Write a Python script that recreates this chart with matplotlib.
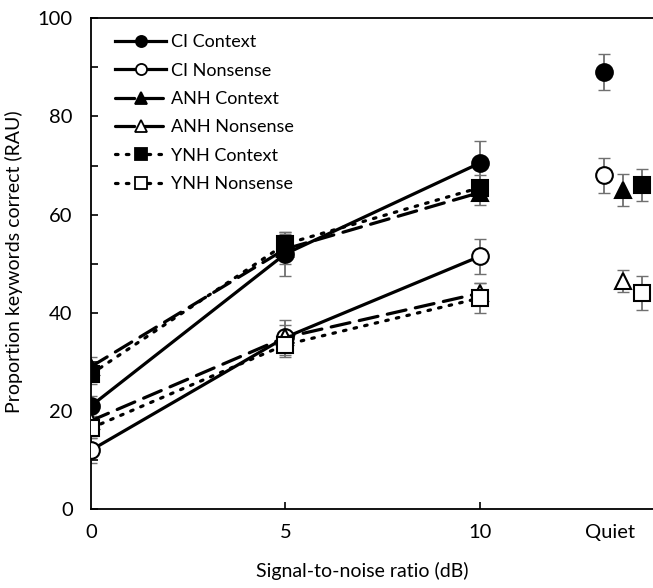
import matplotlib.pyplot as plt
from matplotlib.lines import Line2D

plt.rcParams['font.family'] = ['Lato', 'DejaVu Sans']

snr = [0, 5, 10]
quiet_x = [13.19, 13.68, 14.16]   # CI, ANH, YNH offsets at the "Quiet" position

groups = ['CI', 'ANH', 'YNH']
context = {'CI': [21, 52, 70.5], 'ANH': [29, 53, 64.5], 'YNH': [27.5, 54, 65.5]}
context_err = {'CI': [2, 4.5, 4.5], 'ANH': [2, 3, 2.5], 'YNH': [2, 2.5, 2.5]}
nonsense = {'CI': [12, 35, 51.5], 'ANH': [18, 35, 44], 'YNH': [16.5, 33.5, 43]}
nonsense_err = {'CI': [2.5, 2.5, 3.5], 'ANH': [2, 3.5, 2], 'YNH': [2, 2.5, 3]}
quiet_context = [89, 65, 66]
quiet_context_err = [3.7, 3.3, 3.2]
quiet_nonsense = [68, 46.5, 44]
quiet_nonsense_err = [3.5, 2.3, 3.5]

styles = {'CI': ('-', 'o'), 'ANH': ((0, (6, 3)), '^'), 'YNH': ((0, (0.8, 2.6)), 's')}

fig = plt.figure(figsize=(6.53, 5.88), dpi=100)
ax = fig.add_axes([0.139, 0.134, 0.861, 0.835])

for i, g in enumerate(groups):
    ls, mk = styles[g]
    for vals, errs, qv, qe, fill in [(context[g], context_err[g], quiet_context[i], quiet_context_err[i], 'black'),
                                     (nonsense[g], nonsense_err[g], quiet_nonsense[i], quiet_nonsense_err[i], 'white')]:
        ax.errorbar(snr, vals, yerr=errs, fmt='none', ecolor='#707070', elinewidth=1.3, capsize=4, zorder=2)
        ax.plot(snr, vals, linestyle=ls, color='black', lw=2.3, marker=mk, markersize=12,
                markerfacecolor=fill, markeredgecolor='black', markeredgewidth=1.5,
                dash_capstyle='round', zorder=3)
        ax.errorbar([quiet_x[i]], [qv], yerr=[qe], fmt='none', ecolor='#707070', elinewidth=1.3, capsize=4, zorder=2)
        ax.plot([quiet_x[i]], [qv], linestyle='none', marker=mk, markersize=12,
                markerfacecolor=fill, markeredgecolor='black', markeredgewidth=1.5, zorder=3)

ax.set_xlim(0, 14.45)
ax.set_ylim(0, 100)
ax.set_xticks([0, 5, 10, 13.34])
ax.set_xticklabels(['0', '5', '10', 'Quiet'])
ax.set_yticks(range(0, 101, 10))
ax.set_yticklabels([str(v) if v % 20 == 0 else '' for v in range(0, 101, 10)])
ax.tick_params(direction='in', length=5, width=1.2, labelsize=14.5, pad=11)
ax.tick_params(axis='y', pad=13)
xt = ax.xaxis.get_major_ticks()
xt[0].tick1line.set_visible(False)
xt[3].tick1line.set_visible(False)
for s in ['left', 'bottom', 'top']:
    ax.spines[s].set_linewidth(1.3)
ax.spines['right'].set_visible(False)

ax.set_xlabel('Signal-to-noise ratio (dB)', fontsize=14)
ax.xaxis.set_label_coords(0.483, -0.108)
ax.set_ylabel('Proportion keywords correct (RAU)', fontsize=14)
ax.yaxis.set_label_coords(-0.12, 0.505)

handles = []
labels = []
for g in groups:
    ls, mk = styles[g]
    for kind, fill in [('Context', 'black'), ('Nonsense', 'white')]:
        handles.append(Line2D([], [], linestyle=ls, color='black', lw=2.3, marker=mk, markersize=8,
                              markerfacecolor=fill, markeredgecolor='black', markeredgewidth=1.3,
                              dash_capstyle='round'))
        labels.append(f'{g} {kind}')
ax.legend(handles, labels, loc='upper left', frameon=False, fontsize=13, handlelength=2.8,
          handletextpad=0.3, labelspacing=0.68, bbox_to_anchor=(0.015, 1.0))

fig.savefig('out.png', dpi=100)
